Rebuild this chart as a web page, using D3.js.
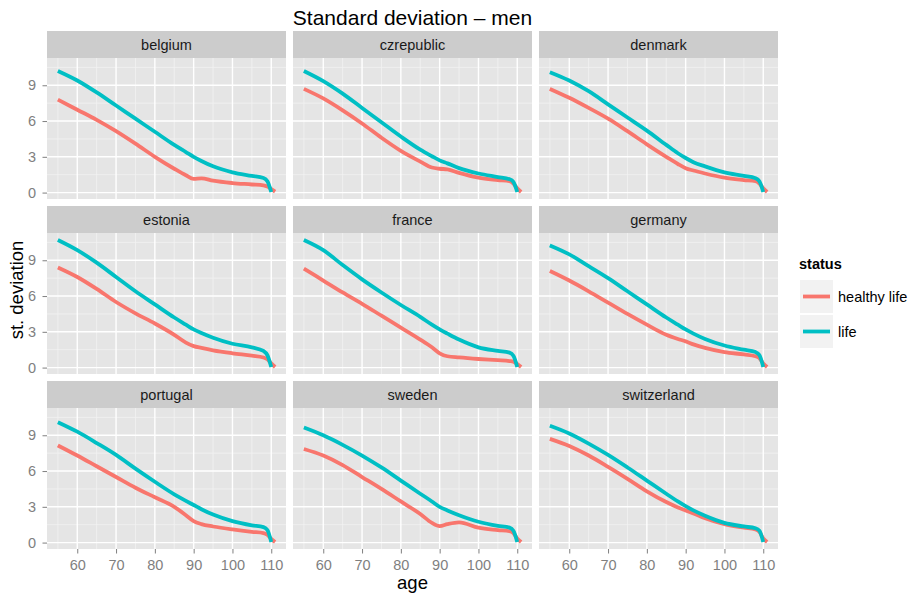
<!DOCTYPE html>
<html>
<head>
<meta charset="utf-8">
<script src="https://cdn.jsdelivr.net/npm/d3@7"></script>
<style>
  html, body { margin: 0; padding: 0; background: #ffffff; }
  svg { display: block; font-family: "Liberation Sans", Arial, sans-serif; }
</style>
</head>
<body>
<svg id="chart" width="910" height="595"></svg>
<script>
// ---- data ----
const ages = [55, 60, 65, 70, 75, 80, 85, 88, 90, 92, 95, 100, 105, 108, 109, 110, 111];
const countries = ["belgium", "czrepublic", "denmark", "estonia", "france", "germany", "portugal", "sweden", "switzerland"];
const statuses = ["healthy life", "life"];
const xTicks = [60, 70, 80, 90, 100, 110];
const yTicks = [0, 3, 6, 9];

const belgiumHealthy     = [7.8, 6.95, 6.1, 5.15, 4.1, 3.0, 2.0, 1.45, 1.15, 1.2, 1.0, 0.8, 0.68, 0.6, 0.5, 0.3, 0.08];
const belgiumLife        = [10.2, 9.4, 8.4, 7.3, 6.2, 5.1, 4.0, 3.4, 3.0, 2.65, 2.2, 1.7, 1.4, 1.22, 0.95, 0.05, null];
const czrepublicHealthy  = [8.7, 7.9, 6.9, 5.8, 4.6, 3.5, 2.6, 2.1, 2.0, 1.95, 1.65, 1.25, 1.05, 0.95, 0.75, 0.35, 0.05];
const czrepublicLife     = [10.2, 9.35, 8.3, 7.1, 5.9, 4.7, 3.6, 3.05, 2.7, 2.45, 2.05, 1.6, 1.3, 1.12, 0.9, 0.05, null];
const denmarkHealthy     = [8.7, 7.95, 7.1, 6.2, 5.15, 4.05, 3.0, 2.4, 2.05, 1.85, 1.6, 1.25, 1.05, 0.95, 0.75, 0.35, 0.05];
const denmarkLife        = [10.1, 9.4, 8.5, 7.4, 6.3, 5.2, 4.0, 3.3, 2.9, 2.55, 2.2, 1.7, 1.4, 1.2, 0.95, 0.05, null];
const estoniaHealthy     = [8.4, 7.6, 6.6, 5.5, 4.55, 3.7, 2.75, 2.1, 1.8, 1.65, 1.45, 1.2, 1.0, 0.85, 0.7, 0.35, 0.05];
const estoniaLife        = [10.7, 9.85, 8.8, 7.6, 6.4, 5.3, 4.2, 3.6, 3.2, 2.9, 2.5, 2.0, 1.7, 1.4, 1.05, 0.05, null];
const franceHealthy      = [8.3, 7.3, 6.3, 5.35, 4.35, 3.35, 2.35, 1.7, 1.2, 0.95, 0.85, 0.72, 0.62, 0.55, 0.5, 0.3, 0.05];
const franceLife         = [10.7, 9.85, 8.6, 7.4, 6.3, 5.25, 4.25, 3.6, 3.2, 2.85, 2.35, 1.7, 1.4, 1.25, 1.0, 0.05, null];
const germanyHealthy     = [8.1, 7.3, 6.4, 5.45, 4.5, 3.6, 2.75, 2.4, 2.2, 1.95, 1.65, 1.3, 1.1, 0.95, 0.8, 0.35, 0.05];
const germanyLife        = [10.25, 9.5, 8.5, 7.5, 6.4, 5.3, 4.2, 3.6, 3.2, 2.85, 2.4, 1.85, 1.5, 1.3, 1.05, 0.05, null];
const portugalHealthy    = [8.15, 7.3, 6.4, 5.5, 4.6, 3.8, 3.0, 2.3, 1.8, 1.55, 1.35, 1.1, 0.9, 0.8, 0.65, 0.3, 0.05];
const portugalLife       = [10.1, 9.3, 8.35, 7.35, 6.2, 5.1, 4.05, 3.5, 3.15, 2.8, 2.35, 1.8, 1.45, 1.3, 1.05, 0.05, null];
const swedenHealthy      = [7.85, 7.3, 6.5, 5.5, 4.5, 3.45, 2.4, 1.65, 1.38, 1.55, 1.7, 1.25, 1.05, 0.95, 0.8, 0.35, 0.05];
const swedenLife         = [9.65, 9.0, 8.2, 7.3, 6.3, 5.2, 4.1, 3.45, 3.0, 2.7, 2.3, 1.75, 1.4, 1.25, 1.0, 0.05, null];
const switzerlandHealthy = [8.7, 8.1, 7.3, 6.35, 5.35, 4.3, 3.4, 2.95, 2.7, 2.45, 2.05, 1.55, 1.25, 1.1, 0.9, 0.35, 0.05];
const switzerlandLife    = [9.8, 9.15, 8.3, 7.35, 6.3, 5.2, 4.1, 3.45, 3.05, 2.7, 2.25, 1.65, 1.35, 1.2, 1.0, 0.05, null];

const seriesByCountry = {
  belgium: [belgiumHealthy, belgiumLife],
  czrepublic: [czrepublicHealthy, czrepublicLife],
  denmark: [denmarkHealthy, denmarkLife],
  estonia: [estoniaHealthy, estoniaLife],
  france: [franceHealthy, franceLife],
  germany: [germanyHealthy, germanyLife],
  portugal: [portugalHealthy, portugalLife],
  sweden: [swedenHealthy, swedenLife],
  switzerland: [switzerlandHealthy, switzerlandLife]
};

// ---- layout ----
const colors = d3.scaleOrdinal().domain(statuses).range(["#F8766D", "#00BFC4"]);
const colX = [47, 293, 539];
const rowY = [31, 206, 381];
const stripH = 27, pw = 239, ph = 141;
const smallFont = 14.5;

const xDataExt = [55, 111];
const yDataExt = [0, 10.75];
const xr = xDataExt[1] - xDataExt[0], yr = yDataExt[1] - yDataExt[0];
const x = d3.scaleLinear().domain([xDataExt[0] - 0.05 * xr, xDataExt[1] + 0.05 * xr]).range([0, pw]);
const y = d3.scaleLinear().domain([yDataExt[0] - 0.05 * yr, yDataExt[1] + 0.05 * yr]).range([ph, 0]);

const xMinor = [55, 65, 75, 85, 95, 105];
const yMinor = [1.5, 4.5, 7.5, 10.5];

const svg = d3.select("#chart");

const line = d3.line()
  .defined(d => d.v != null)
  .x(d => x(d.a))
  .y(d => y(d.v))
  .curve(d3.curveMonotoneX);

countries.forEach((c, i) => {
  const col = i % 3, row = Math.floor(i / 3);
  const g = svg.append("g").attr("transform", `translate(${colX[col]},${rowY[row]})`);
  // strip
  g.append("rect").attr("width", pw).attr("height", stripH).attr("fill", "#CCCCCC");
  g.append("text").attr("x", pw / 2).attr("y", stripH / 2 + 5)
    .attr("text-anchor", "middle").attr("font-size", smallFont).attr("fill", "#1A1A1A").text(c);
  // panel
  const p = g.append("g").attr("transform", `translate(0,${stripH})`);
  p.append("rect").attr("width", pw).attr("height", ph).attr("fill", "#E5E5E5");
  p.selectAll(".xmin").data(xMinor).enter().append("line")
    .attr("x1", d => x(d)).attr("x2", d => x(d)).attr("y1", 0).attr("y2", ph)
    .attr("stroke", "#F2F2F2").attr("stroke-width", 0.8);
  p.selectAll(".ymin").data(yMinor).enter().append("line")
    .attr("y1", d => y(d)).attr("y2", d => y(d)).attr("x1", 0).attr("x2", pw)
    .attr("stroke", "#F2F2F2").attr("stroke-width", 0.8);
  p.selectAll(".xmaj").data(xTicks).enter().append("line")
    .attr("x1", d => x(d)).attr("x2", d => x(d)).attr("y1", 0).attr("y2", ph)
    .attr("stroke", "#FFFFFF").attr("stroke-width", 1.4);
  p.selectAll(".ymaj").data(yTicks).enter().append("line")
    .attr("y1", d => y(d)).attr("y2", d => y(d)).attr("x1", 0).attr("x2", pw)
    .attr("stroke", "#FFFFFF").attr("stroke-width", 1.4);

  statuses.forEach((s, k) => {
    const vals = seriesByCountry[c][k];
    const pts = ages.map((a, j) => ({ a: a, v: vals[j] }));
    p.append("path").datum(pts).attr("d", line)
      .attr("fill", "none").attr("stroke", colors(s)).attr("stroke-width", 3.8)
      .attr("stroke-linejoin", "round").attr("stroke-linecap", "butt");
  });

  // y axis on first column
  if (col === 0) {
    const ya = p.append("g").call(d3.axisLeft(y).tickValues(yTicks).tickSize(4.5).tickPadding(6.5));
    ya.select(".domain").remove();
    ya.selectAll("line").attr("stroke", "#7F7F7F").attr("stroke-width", 1);
    ya.selectAll("text").attr("fill", "#7F7F7F").attr("font-size", smallFont)
      .attr("font-family", "Liberation Sans, Arial, sans-serif");
  }
  // x axis on last row
  if (row === 2) {
    const xa = p.append("g").attr("transform", `translate(0,${ph})`)
      .call(d3.axisBottom(x).tickValues(xTicks).tickSize(4.5).tickPadding(6.5));
    xa.select(".domain").remove();
    xa.selectAll("line").attr("stroke", "#7F7F7F").attr("stroke-width", 1);
    xa.selectAll("text").attr("fill", "#7F7F7F").attr("font-size", smallFont)
      .attr("font-family", "Liberation Sans, Arial, sans-serif");
  }
});

// titles
svg.append("text").attr("x", 412.5).attr("y", 25).attr("text-anchor", "middle")
  .attr("font-size", 21).attr("fill", "#000").text("Standard deviation – men");
svg.append("text").attr("x", 412.5).attr("y", 589).attr("text-anchor", "middle")
  .attr("font-size", 18.5).attr("fill", "#000").text("age");
svg.append("text").attr("transform", "translate(23,290) rotate(-90)").attr("text-anchor", "middle")
  .attr("font-size", 18.5).attr("fill", "#000").text("st. deviation");

// legend
const lg = svg.append("g").attr("transform", "translate(800,0)");
lg.append("text").attr("x", -1).attr("y", 269).attr("font-size", smallFont).attr("font-weight", "bold").text("status");
statuses.forEach((s, k) => {
  const top = 280 + k * 35;
  lg.append("rect").attr("x", 0).attr("y", top).attr("width", 33).attr("height", 33).attr("fill", "#F2F2F2");
  lg.append("line").attr("x1", 3).attr("x2", 30).attr("y1", top + 16.5).attr("y2", top + 16.5)
    .attr("stroke", colors(s)).attr("stroke-width", 3.8);
  lg.append("text").attr("x", 38).attr("y", top + 16.5 + 5).attr("font-size", smallFont).attr("fill", "#000").text(s);
});
</script>
</body>
</html>
